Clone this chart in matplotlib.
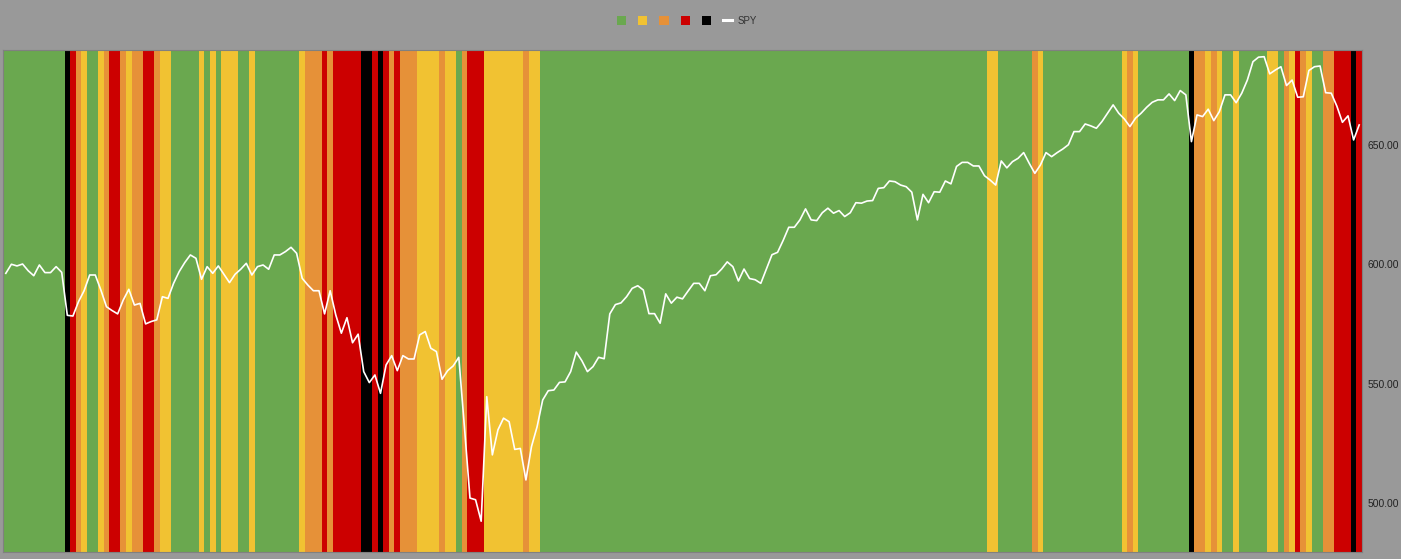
import numpy as np
import matplotlib
matplotlib.use('Agg')
import matplotlib.pyplot as plt
from matplotlib.patches import Patch
from matplotlib.lines import Line2D
from matplotlib.ticker import FormatStrFormatter

plt.rcParams['font.family'] = ['Liberation Sans', 'DejaVu Sans']

# daily regime (G green, Y yellow, O orange, R red, K black), as runs
regime_runs = [
    ('G', 11), ('K', 1), ('R', 1), ('O', 1), ('Y', 1), ('G', 2), ('Y', 1), ('O', 1),
    ('R', 2), ('O', 1), ('Y', 1), ('O', 2), ('R', 2), ('O', 1), ('Y', 2), ('G', 5),
    ('Y', 1), ('G', 1), ('Y', 1), ('G', 1), ('Y', 3), ('G', 2), ('Y', 1), ('G', 8),
    ('Y', 1), ('O', 3), ('R', 1), ('O', 1), ('R', 5), ('K', 2), ('R', 1), ('K', 1),
    ('R', 1), ('O', 1), ('R', 1), ('O', 3), ('Y', 4), ('O', 1), ('Y', 2), ('G', 1),
    ('O', 1), ('R', 3), ('Y', 7), ('O', 1), ('Y', 2), ('G', 80), ('Y', 2), ('G', 6),
    ('O', 1), ('Y', 1), ('G', 14), ('Y', 1), ('O', 1), ('Y', 1), ('G', 9), ('K', 1),
    ('O', 2), ('Y', 1), ('O', 1), ('Y', 1), ('G', 2), ('Y', 1), ('G', 5), ('Y', 2),
    ('G', 1), ('O', 1), ('Y', 1), ('R', 1), ('O', 1), ('Y', 1), ('G', 2), ('O', 2),
    ('R', 3), ('K', 1), ('R', 1),
]

spy = [
    596.2, 600.0, 599.3, 600.1, 597.3, 595.2, 599.7, 596.5, 596.5, 599.0,
    596.6, 578.6, 578.3, 584.3, 588.9, 595.5, 595.5, 589.2, 582.2, 580.6,
    579.2, 585.0, 589.5, 582.9, 583.6, 575.0, 576.0, 576.7, 586.4, 585.7,
    592.0, 596.9, 600.7, 603.9, 602.5, 593.7, 599.0, 596.2, 599.3, 595.8,
    592.3, 595.8, 597.9, 600.4, 595.5, 599.0, 599.7, 597.9, 603.9, 603.9,
    605.3, 607.1, 604.6, 594.1, 591.3, 588.9, 588.9, 579.2, 588.9, 578.8,
    571.1, 577.6, 567.1, 570.7, 555.0, 550.4, 553.6, 545.9, 557.8, 561.7,
    555.4, 561.7, 560.3, 560.3, 570.4, 571.8, 564.8, 563.4, 551.8, 555.4,
    557.4, 561.0, 532.0, 502.0, 501.3, 492.3, 544.5, 520.1, 530.6, 535.5,
    534.0, 522.4, 522.8, 509.6, 523.6, 531.9, 543.1, 547.0, 547.3, 550.5,
    550.7, 555.0, 563.2, 559.6, 555.0, 557.1, 561.0, 560.4, 579.2, 583.1,
    583.8, 586.4, 589.9, 591.0, 589.2, 579.3, 579.3, 575.3, 587.6, 583.7,
    586.2, 585.5, 588.8, 592.0, 592.0, 588.9, 595.2, 595.6, 598.0, 601.0,
    599.0, 593.0, 598.0, 594.0, 593.5, 592.0, 598.0, 604.0, 605.0, 610.0,
    615.5, 615.5, 618.6, 623.2, 618.6, 618.3, 621.6, 623.5, 621.4, 622.5,
    620.0, 621.6, 625.8, 625.6, 626.5, 626.7, 631.8, 632.1, 634.9, 634.6,
    633.2, 632.5, 630.2, 618.6, 629.3, 625.8, 630.4, 630.2, 634.9, 633.7,
    641.0, 642.7, 642.7, 641.2, 641.2, 637.1, 635.3, 633.2, 643.3, 640.4,
    643.0, 644.4, 646.8, 642.3, 638.1, 641.6, 646.8, 645.1, 646.8, 648.3,
    650.1, 655.6, 655.6, 658.8, 658.0, 657.0, 659.8, 663.3, 666.8, 663.3,
    660.9, 657.7, 661.2, 663.3, 665.8, 667.9, 668.9, 668.9, 671.4, 668.6,
    672.8, 671.0, 651.4, 662.6, 661.9, 665.0, 660.2, 664.0, 671.0, 671.0,
    667.7, 671.7, 677.2, 684.9, 686.8, 687.0, 679.8, 681.4, 682.8, 674.9,
    677.2, 670.0, 670.2, 681.2, 682.8, 683.1, 671.9, 671.7, 666.3, 659.5,
    662.2, 652.1, 658.4,
]

palette = {'G': '#6aa84f', 'Y': '#f1c232', 'O': '#e69138', 'R': '#cc0000', 'K': '#000000'}
legend_order = ['G', 'Y', 'O', 'R', 'K']
y_ticks = [500, 550, 600, 650]
y_range = (479.4, 689.8)

regime = []
for code, n in regime_runs:
    regime += [code] * n

n_days = len(spy)
x = np.arange(n_days)
bar_colors = [palette[c] for c in regime[:n_days]]

bg = '#999999'
fig = plt.figure(figsize=(14.01, 5.59), dpi=100, facecolor=bg)
ax = fig.add_axes([3 / 1401, 7 / 559, 1359 / 1401, 502 / 559])
ax.set_facecolor(bg)

ax.bar(x, y_range[1] - y_range[0], bottom=y_range[0], width=1.0,
       color=bar_colors, linewidth=0, align='center')
ax.plot(x, spy, color='white', linewidth=1.2)

ax.set_xlim(-0.5, n_days - 0.5)
ax.set_ylim(*y_range)
ax.set_xticks([])
ax.yaxis.tick_right()
ax.set_yticks(y_ticks)
ax.yaxis.set_major_formatter(FormatStrFormatter('%.2f'))
ax.tick_params(axis='y', length=0, pad=4, labelsize=7.4, labelcolor='#222222')
for s in ax.spines.values():
    s.set_color('#808080')
    s.set_linewidth(0.8)

handles = [Patch(facecolor=palette[c], edgecolor='none') for c in legend_order]
handles.append(Line2D([], [], color='white', linewidth=2.2))
labels = [''] * len(legend_order) + ['SPY']
fig.legend(handles, labels, loc='center', bbox_to_anchor=(687 / 1401, 1 - 21 / 559),
           ncol=6, frameon=False, fontsize=7, handlelength=0.95, handleheight=0.95,
           handletextpad=0.55, columnspacing=0.68, labelcolor='#333333')

fig.savefig('out.png', dpi=100, facecolor=bg)
